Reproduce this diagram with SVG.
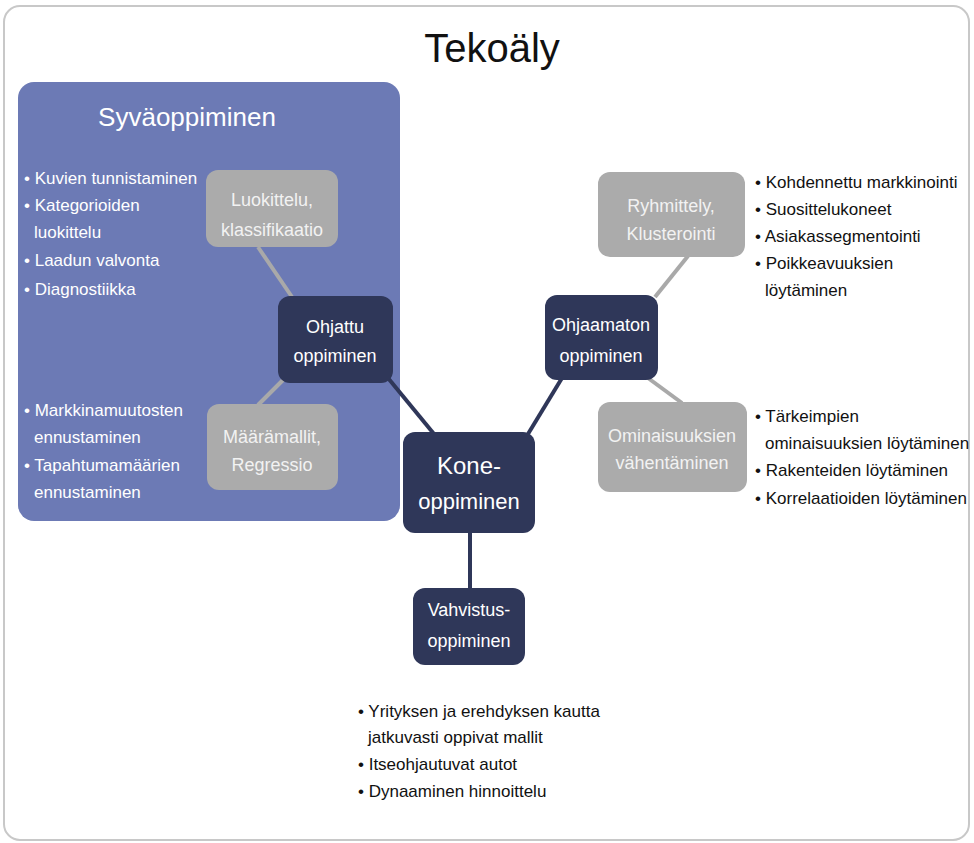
<svg xmlns="http://www.w3.org/2000/svg" width="974" height="843" viewBox="0 0 974 843">
<style>
text{font-family:"Liberation Sans","DejaVu Sans",sans-serif}
.frame{fill:#fff;stroke:#c8c8c8;stroke-width:2}
.deep{fill:#6c7ab5}
.dark{fill:#2f3759}
.gray{fill:#ababab}
.wt{fill:#ffffff}
.lt{fill:#f2f2f2}
.bk{fill:#111}
.cg{stroke:#a9a9a9;stroke-width:4;fill:none}
.cd{stroke:#2f3759;stroke-width:4;fill:none}
.b{font-size:17px}
.n{font-size:18px;text-anchor:middle}
</style>
<rect class="frame" x="4" y="6" width="965" height="834" rx="16"/>
<text x="492" y="62" font-size="40" text-anchor="middle" class="bk">Tekoäly</text>
<g id="syvaoppiminen">
<rect class="deep" x="18" y="82" width="382" height="439" rx="16"/>
<text x="187" y="126" font-size="26" text-anchor="middle" class="wt">Syväoppiminen</text>
<g class="wt b">
<text x="24" y="184">• Kuvien tunnistaminen</text>
<text x="24" y="211">• Kategorioiden</text>
<text x="34" y="238">luokittelu</text>
<text x="24" y="266">• Laadun valvonta</text>
<text x="24" y="295">• Diagnostiikka</text>
<text x="24" y="416">• Markkinamuutosten</text>
<text x="34" y="443">ennustaminen</text>
<text x="24" y="471">• Tapahtumamäärien</text>
<text x="34" y="498">ennustaminen</text>
</g>
</g>
<g id="connectors">
<line class="cg" x1="258" y1="247" x2="292" y2="297"/>
<line class="cg" x1="283" y1="380" x2="258" y2="405"/>
<line class="cd" x1="388" y1="378" x2="434" y2="434"/>
<line class="cd" x1="528" y1="434" x2="562" y2="378"/>
<line class="cd" x1="470" y1="533" x2="470" y2="590"/>
<line class="cg" x1="655" y1="297" x2="688" y2="256"/>
<line class="cg" x1="648" y1="378" x2="682" y2="403"/>
</g>
<g id="luokittelu">
<rect class="gray" x="206" y="170" width="132" height="77" rx="12"/>
<text x="272" y="206" class="n lt" font-size="19">Luokittelu,</text>
<text x="272" y="236" class="n lt" font-size="19">klassifikaatio</text>
</g>
<g id="ohjattu">
<rect class="dark" x="278" y="296" width="115" height="87" rx="12"/>
<text x="335" y="333" class="n wt">Ohjattu</text>
<text x="335" y="362" class="n wt">oppiminen</text>
</g>
<g id="maaramallit">
<rect class="gray" x="207" y="404" width="131" height="86" rx="12"/>
<text x="272" y="443" class="n lt" font-size="20">Määrämallit,</text>
<text x="272" y="471" class="n lt" font-size="20">Regressio</text>
</g>
<g id="koneoppiminen">
<rect class="dark" x="403" y="432" width="132" height="101" rx="12"/>
<text x="469" y="474" font-size="24" text-anchor="middle" class="wt">Kone-</text>
<text x="469" y="509" font-size="22" text-anchor="middle" class="wt">oppiminen</text>
</g>
<g id="vahvistusoppiminen">
<rect class="dark" x="413" y="588" width="112" height="77" rx="12"/>
<text x="469" y="616" class="n wt">Vahvistus-</text>
<text x="469" y="647" class="n wt">oppiminen</text>
<g class="bk b">
<text x="358" y="717">• Yrityksen ja erehdyksen kautta</text>
<text x="368" y="743">jatkuvasti oppivat mallit</text>
<text x="358" y="770">• Itseohjautuvat autot</text>
<text x="358" y="797">• Dynaaminen hinnoittelu</text>
</g>
</g>
<g id="ohjaamaton">
<rect class="dark" x="545" y="295" width="113" height="85" rx="12"/>
<text x="601" y="331" class="n wt">Ohjaamaton</text>
<text x="601" y="362" class="n wt">oppiminen</text>
</g>
<g id="ryhmittely">
<rect class="gray" x="598" y="172" width="147" height="85" rx="12"/>
<text x="671" y="212" class="n lt" font-size="19">Ryhmittely,</text>
<text x="671" y="240" class="n lt" font-size="19">Klusterointi</text>
<g class="bk b">
<text x="755" y="188">• Kohdennettu markkinointi</text>
<text x="755" y="215">• Suosittelukoneet</text>
<text x="755" y="242">• Asiakassegmentointi</text>
<text x="755" y="269">• Poikkeavuuksien</text>
<text x="765" y="296">löytäminen</text>
</g>
</g>
<g id="ominaisuuksien">
<rect class="gray" x="598" y="402" width="149" height="90" rx="12"/>
<text x="672" y="442" class="n lt" font-size="19">Ominaisuuksien</text>
<text x="672" y="469" class="n lt" font-size="19">vähentäminen</text>
<g class="bk b">
<text x="755" y="422">• Tärkeimpien</text>
<text x="765" y="449">ominaisuuksien löytäminen</text>
<text x="755" y="476">• Rakenteiden löytäminen</text>
<text x="755" y="504">• Korrelaatioiden löytäminen</text>
</g>
</g>
</svg>
